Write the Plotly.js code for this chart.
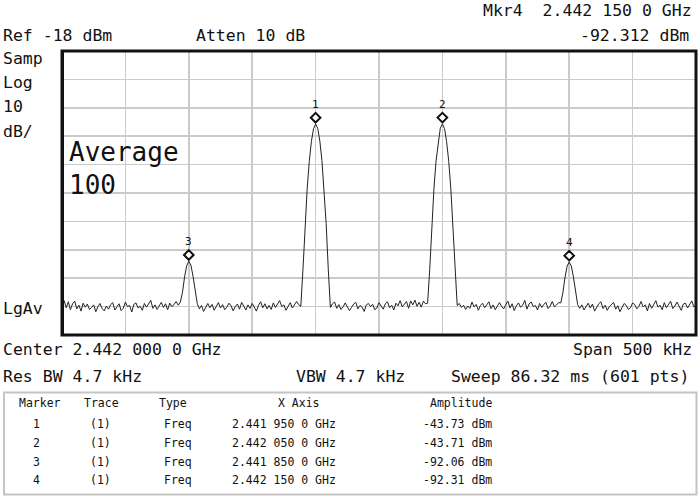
<!DOCTYPE html>
<html><head><meta charset="utf-8">
<script src="https://cdn.plot.ly/plotly-3.0.1.min.js"></script>
<style>html,body{margin:0;padding:0;background:#fff;} #chart{width:700px;height:499px;}</style>
</head><body><div id="chart"></div>
<script>
const centerGHz = 2.442;
const spanGHz = 0.0005;
const refLevel = -18;
const dbPerDiv = 10;

// trace amplitude (dBm), sampled every other sweep point (301 values across the span)
const traceAmp = [
-107.2,-105.9,-108.4,-106.3,-109.1,-107.0,-106.1,-108.8,-107.5,-109.6,
-106.8,-108.2,-107.1,-109.0,-108.3,-107.4,-109.8,-108.0,-106.9,-108.7,
-109.5,-107.8,-108.9,-107.3,-106.6,-109.2,-108.1,-107.0,-109.4,-108.6,
-106.4,-108.0,-107.6,-109.9,-107.2,-106.7,-108.5,-107.9,-109.3,-106.9,
-108.2,-107.1,-105.8,-108.6,-107.4,-109.0,-107.7,-106.5,-108.3,-107.0,
-109.1,-106.8,-108.0,-107.3,-106.2,-107.5,
-106.4,-103.0,-97.6,-93.6,-92.06,-93.4,-97.3,-102.8,-106.9,
-108.8,-107.6,-109.7,-108.1,-106.9,-108.4,-107.2,-109.3,-107.9,-106.6,
-108.5,-107.3,-109.1,-108.2,-106.8,-107.7,-109.5,-108.0,-107.1,-108.9,
-106.5,-107.8,-109.2,-107.4,-108.6,-106.9,-108.1,-109.6,-107.5,-106.3,
-108.4,-107.0,-108.8,-107.6,-109.0,-106.7,-108.3,-107.2,-105.9,-108.0,
-107.4,-109.3,-107.8,-106.6,-108.5,-107.1,-106.2,-107.3,
-107.9,-95.2,-79.3,-66.7,-56.9,-49.9,-45.4,-43.73,-45.2,-49.7,-56.6,-66.3,-78.8,-94.8,-108.3,
-107.0,-106.4,-108.6,-107.3,-109.0,-108.1,-106.7,-107.9,-109.4,-108.3,
-107.1,-106.5,-108.8,-107.6,-108.2,-109.7,-107.4,-106.9,-108.0,-107.2,
-109.1,-108.5,-106.6,-107.8,-108.9,-107.0,-106.3,-108.4,-107.5,-109.2,
-106.8,-107.7,-105.9,-108.1,-107.3,-106.2,-108.6,-106.0,-107.4,-105.7,
-107.9,-106.5,-108.2,-106.1,-107.0,
-106.8,-94.9,-79.1,-66.4,-56.7,-49.8,-45.2,-43.71,-45.3,-49.9,-56.9,-66.6,-79.2,-95.1,-107.6,
-106.9,-108.3,-107.5,-109.0,-107.8,-108.6,-106.4,-108.1,-107.2,-109.3,
-107.6,-106.8,-108.4,-107.1,-106.3,-108.7,-107.4,-109.1,-108.0,-106.6,
-107.9,-108.8,-107.3,-106.1,-108.5,-107.0,-109.4,-107.7,-106.7,-108.2,
-107.5,-105.8,-108.9,-107.1,-106.4,-108.0,-107.6,-109.2,-106.9,-108.3,
-107.2,-106.5,-108.7,-107.8,-106.2,-108.1,-107.4,-106.6,
-106.7,-103.2,-97.8,-93.8,-92.31,-93.7,-97.6,-103.1,-107.3,
-108.6,-107.4,-109.2,-107.9,-106.8,-108.5,-107.1,-109.6,-108.2,-107.0,
-106.3,-108.7,-107.5,-109.3,-108.0,-107.2,-106.5,-108.9,-107.7,-109.8,
-108.3,-106.9,-107.6,-109.0,-108.4,-106.7,-107.3,-108.8,-107.9,-106.2,
-108.1,-107.4,-109.5,-106.9,-108.6,-107.0,-105.9,-108.2,-107.5,-109.1,
-106.6,-108.4,-107.2,-106.1,-108.7,-107.8,-106.4,-108.0,-109.3,-107.1,
-106.8,-108.5,-107.3,-106.0,-108.1,-107.6
];

const markerLabels = ['1','2','3','4'];
const markerFreq = [2.44195, 2.44205, 2.44185, 2.44215];
const markerAmp = [-43.73, -43.71, -92.06, -92.31];

const tableHeader = ['Marker','Trace','Type','X Axis','Amplitude'];
const tableMarker = ['1','2','3','4'];
const tableTrace = ['(1)','(1)','(1)','(1)'];
const tableType = ['Freq','Freq','Freq','Freq'];
const tableX = ['2.441 950 0 GHz','2.442 050 0 GHz','2.441 850 0 GHz','2.442 150 0 GHz'];
const tableAmp = ['-43.73 dBm','-43.71 dBm','-92.06 dBm','-92.31 dBm'];

const topLeft = ['Ref -18 dBm','Atten 10 dB'];
const mkrReadout = ['Mkr4  2.442 150 0 GHz','-92.312 dBm'];
const leftLabels = ['Samp','Log','10','dB/'];
const avgText = ['Average','100'];
const detText = 'LgAv';
const bottomLeft = ['Center 2.442 000 0 GHz','Res BW 4.7 kHz'];
const bottomMid = 'VBW 4.7 kHz';
const bottomRight = ['Span 500 kHz','Sweep 86.32 ms (601 pts)'];

// ---- build ----
const startGHz = centerGHz - spanGHz/2;
const nPts = traceAmp.length;
const traceFreq = traceAmp.map((_, i) => startGHz + i*spanGHz/(nPts-1));

const W = 700, H = 499;
const M = {l:62, r:4, t:51, b:164};
const PW = W - M.l - M.r, PH = H - M.t - M.b;
const px = p => (p - M.l)/PW;
const py = p => 1 - (p - M.t)/PH;
const FONT = 'DejaVu Sans Mono, monospace';

const ann = [];
function txt(text, x, y, anchor, size) {
  ann.push({text: text, xref:'paper', yref:'paper', x: px(x), y: py(y),
    xanchor: anchor, yanchor:'middle', showarrow:false,
    font:{family:FONT, size:size, color:'#111'}});
}
txt(mkrReadout[0], 694, 11, 'right', 16.5);
txt(mkrReadout[1], 691, 36, 'right', 16.5);
txt(topLeft[0], 1, 35, 'left', 16.5);
txt(topLeft[1], 194, 35, 'left', 16.5);
leftLabels.forEach((t, i) => txt(t, 1, 59 + i*24, 'left', 16.5));
txt(avgText[0], 67, 152, 'left', 26);
txt(avgText[1], 67, 185, 'left', 26);
txt(detText, 1, 308, 'left', 16.5);
txt(bottomLeft[0], 1, 349, 'left', 16.5);
txt(bottomLeft[1], 1, 376, 'left', 16.5);
txt(bottomMid, 294, 376, 'left', 16.5);
txt(bottomRight[0], 694, 349, 'right', 16.5);
txt(bottomRight[1], 691, 376, 'right', 16.5);

// marker table
txt(tableHeader[0], 17, 403, 'left', 11.5);
txt(tableHeader[1], 82, 403, 'left', 11.5);
txt(tableHeader[2], 157, 403, 'left', 11.5);
txt(tableHeader[3], 276, 403, 'left', 11.5);
txt(tableHeader[4], 494, 403, 'right', 11.5);
const rowY = [424, 443, 461.5, 480];
for (let i = 0; i < tableMarker.length; i++) {
  txt(tableMarker[i], 36, rowY[i], 'center', 11.5);
  txt(tableTrace[i], 100, rowY[i], 'center', 11.5);
  txt(tableType[i], 162, rowY[i], 'left', 11.5);
  txt(tableX[i], 230, rowY[i], 'left', 11.5);
  txt(tableAmp[i], 494, rowY[i], 'right', 11.5);
}

// marker number labels
markerLabels.forEach((lab, i) => {
  ann.push({text: lab, xref:'x', yref:'y', x: markerFreq[i], y: markerAmp[i],
    yshift: 20, showarrow:false, xanchor:'center', yanchor:'middle',
    font:{family:FONT, size:11, color:'#111'}});
});

const shapes = [];
// diamonds
markerFreq.forEach((f, i) => {
  shapes.push({type:'path', xref:'x', yref:'y', xsizemode:'pixel', ysizemode:'pixel',
    xanchor: f, yanchor: markerAmp[i], path:'M0,1.6 L4.8,6.4 L0,11.2 L-4.8,6.4 Z',
    line:{color:'#111', width:2}, fillcolor:'#fff', layer:'above'});
});
// graticule border
shapes.push({type:'rect', xref:'paper', yref:'paper', x0:0, x1:1, y0:0, y1:1,
  line:{color:'#111', width:3}, layer:'above'});
shapes.push({type:'line', xref:'paper', yref:'paper', x0:px(62.5), x1:px(62.5), y0:0, y1:1,
  line:{color:'#111', width:3}, layer:'above'});
// table box
shapes.push({type:'rect', xref:'paper', yref:'paper', x0:px(4), x1:px(696.5), y0:py(392.5), y1:py(494.5),
  line:{color:'#c4c4c4', width:2}, layer:'above'});

const trace = {x: traceFreq, y: traceAmp, type:'scatter', mode:'lines',
  line:{color:'#222', width:1}, hoverinfo:'skip'};

const layout = {
  width: W, height: H, margin: M,
  paper_bgcolor:'#fff', plot_bgcolor:'#fff', showlegend:false,
  xaxis:{range:[startGHz, startGHz+spanGHz], tick0:startGHz, dtick:spanGHz/10,
    showgrid:true, gridcolor:'#cbcbcb', gridwidth:1.6, zeroline:false,
    showticklabels:false, ticks:'', showline:false, fixedrange:true},
  yaxis:{range:[refLevel-10*dbPerDiv, refLevel], tick0:refLevel, dtick:dbPerDiv,
    showgrid:true, gridcolor:'#cbcbcb', gridwidth:1.6, zeroline:false,
    showticklabels:false, ticks:'', showline:false, fixedrange:true},
  annotations: ann, shapes: shapes
};
Plotly.newPlot('chart', [trace], layout, {displayModeBar:false, staticPlot:true});
</script></body></html>
